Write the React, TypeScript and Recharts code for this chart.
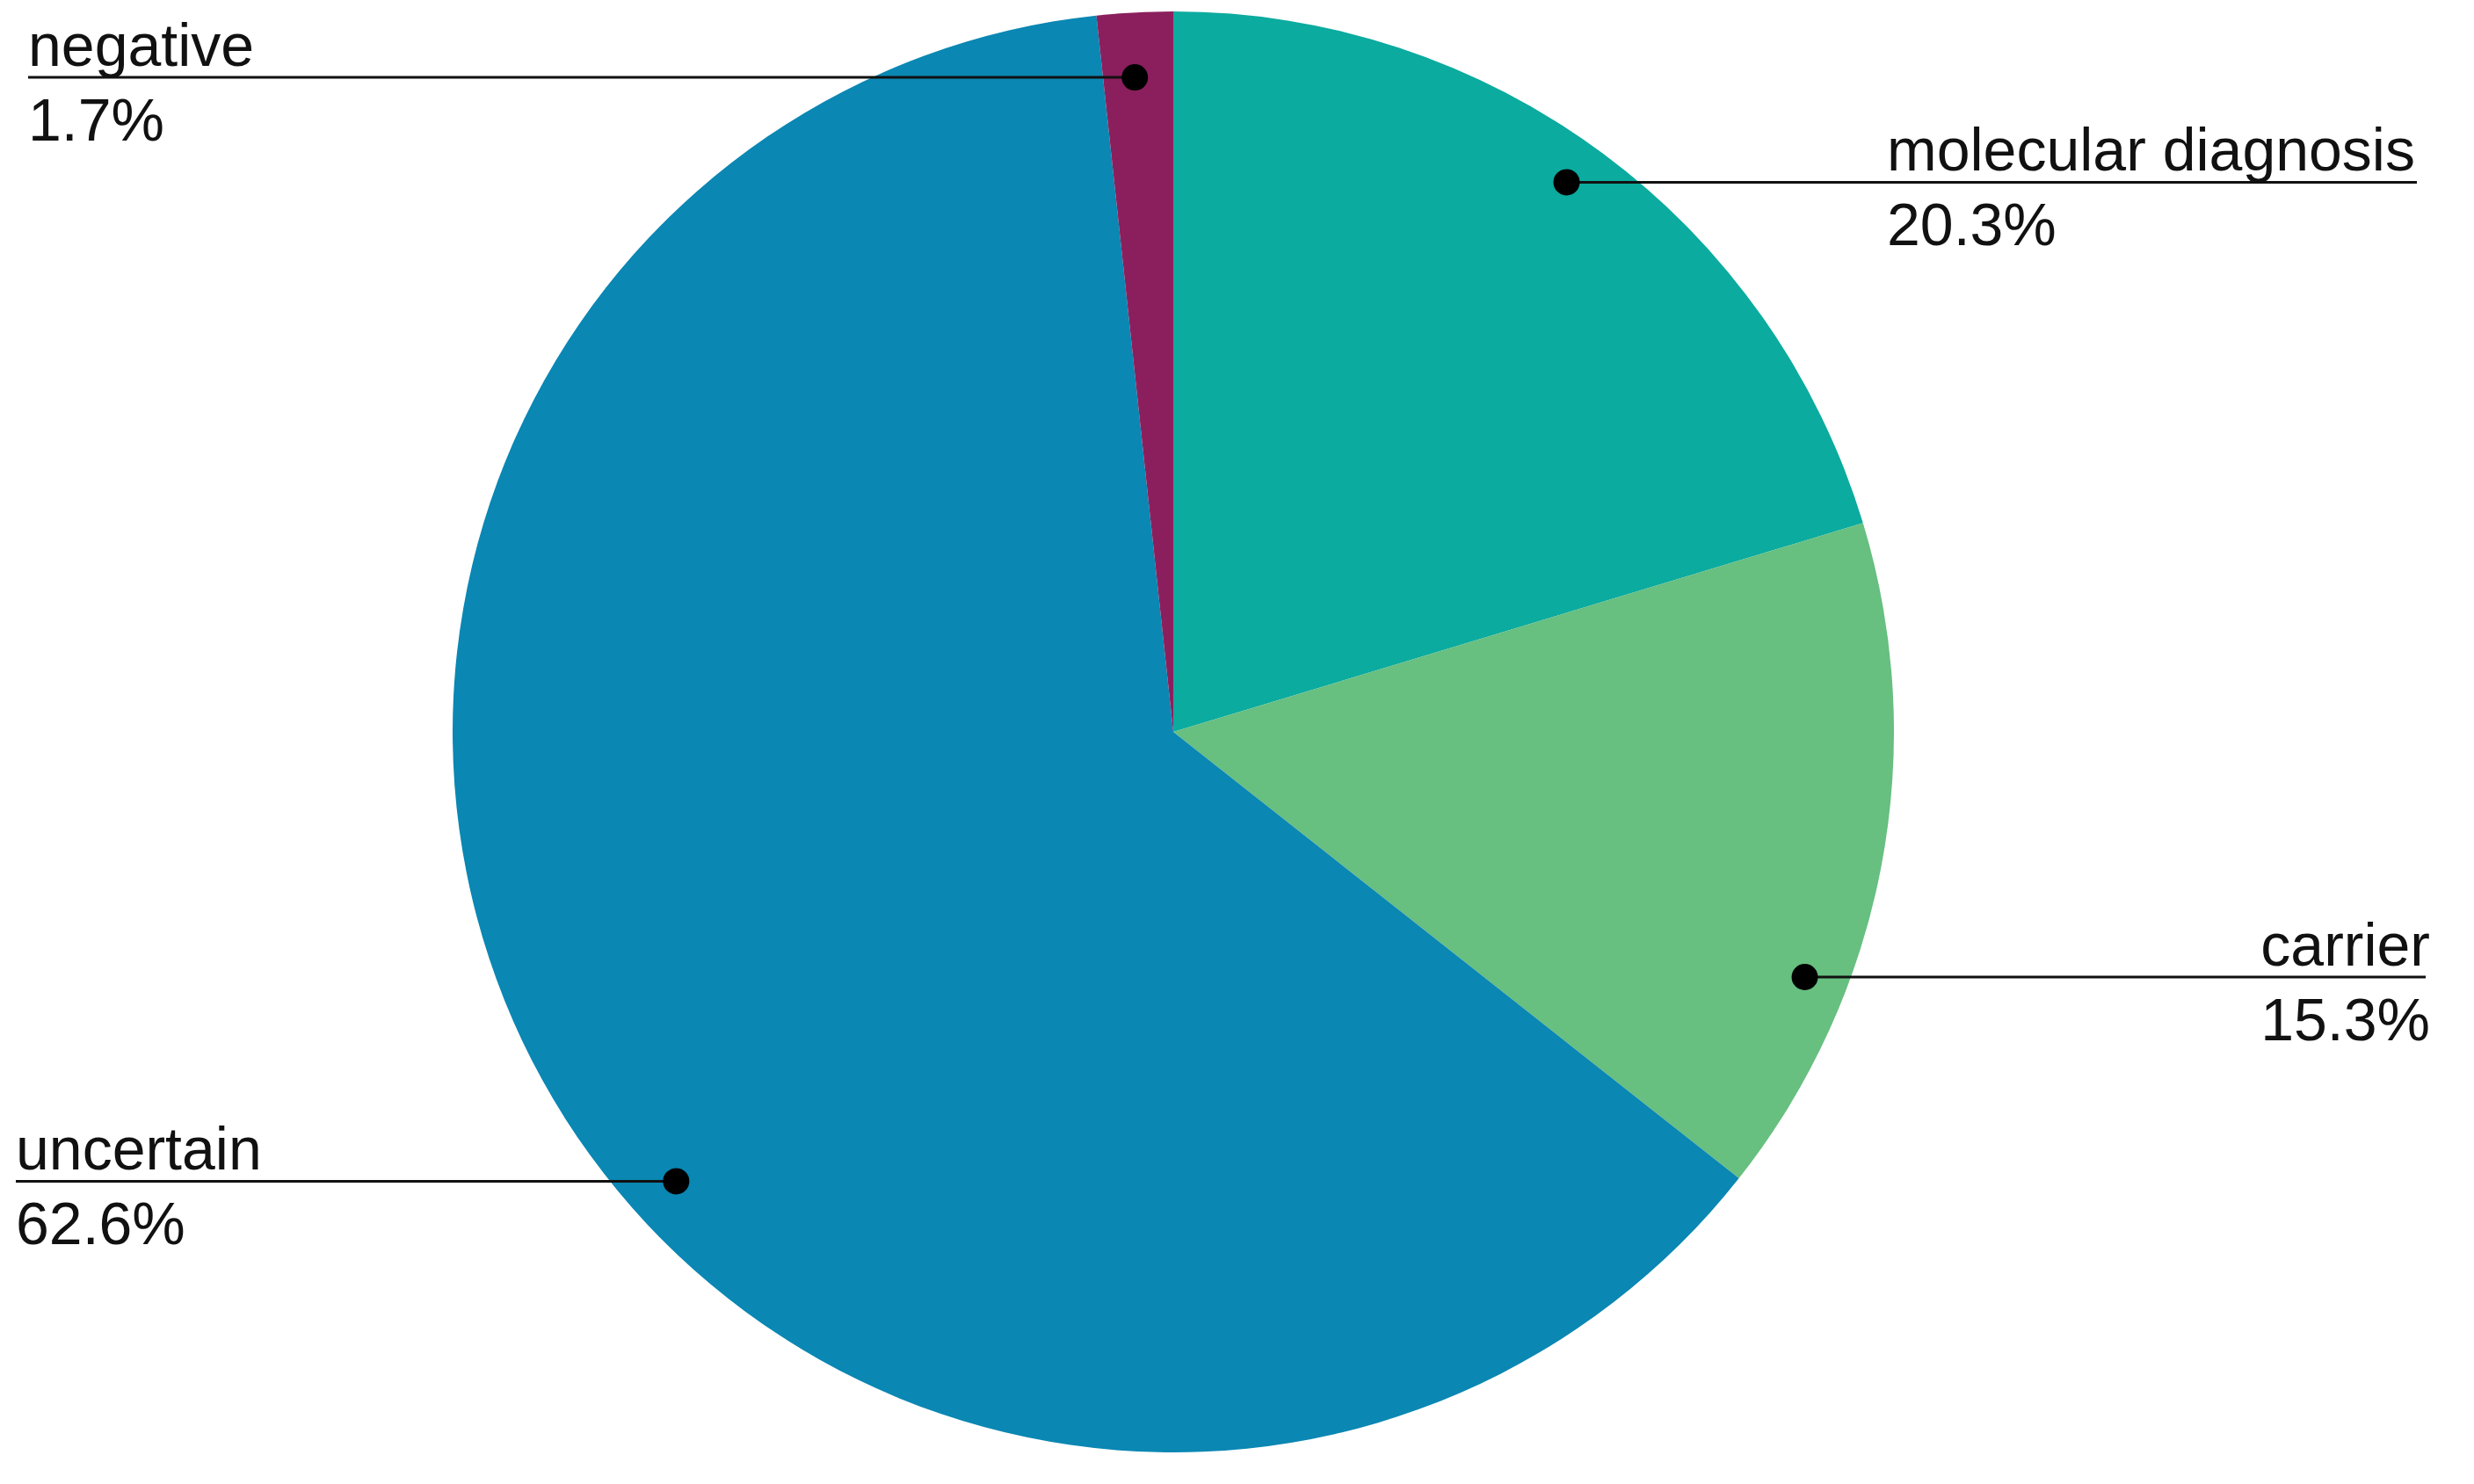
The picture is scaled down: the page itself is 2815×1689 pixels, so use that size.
import React from "react";
import { PieChart, Pie, Cell } from "recharts";

const categories = ["molecular diagnosis", "carrier", "uncertain", "negative"];
const percentages = [20.3, 15.3, 62.6, 1.7];
const valueLabels = ["20.3%", "15.3%", "62.6%", "1.7%"];
const sliceColors = ["#0BAB9F", "#67BF80", "#0A87B3", "#8B1F5D"];

// label placement (annotation layout only)
const labelAngleNudge = [1, -10.5, 13.2, 0.3];
const labelRadiusRatio = [0.938, 0.94, 0.93, 0.91];
const labelLineEnd = [2750, 2760, 18, 32];
const labelTextX = [2147, 2765, 18, 32];
const labelAnchor = ["start", "end", "start", "start"];

const data = categories.map((name, i) => ({ name, value: percentages[i] }));

const RAD = Math.PI / 180;

const renderLabel = (props: any) => {
  const { cx, cy, midAngle, outerRadius, index } = props;
  const ang = midAngle + labelAngleNudge[index];
  const r = outerRadius * labelRadiusRatio[index];
  const dx = cx + r * Math.cos(-ang * RAD);
  const dy = cy + r * Math.sin(-ang * RAD);
  const font = { fontFamily: "'Liberation Sans', Arial, sans-serif", fontSize: 68, fill: "#111" };
  return (
    <g key={`lbl-${index}`}>
      <line x1={dx} y1={dy} x2={labelLineEnd[index]} y2={dy} stroke="#111" strokeWidth={3} />
      <circle cx={dx} cy={dy} r={15} fill="#000" />
      <text x={labelTextX[index]} y={dy - 13} textAnchor={labelAnchor[index] as any} {...font}>
        {categories[index]}
      </text>
      <text x={labelTextX[index]} y={dy + 72} textAnchor={labelAnchor[index] as any} {...font}>
        {valueLabels[index]}
      </text>
    </g>
  );
};

export default function App() {
  return (
    <div style={{ position: "absolute", left: 0, top: 0, width: 2815, height: 1689, background: "#fff" }}>
      <PieChart width={2815} height={1689} margin={{ top: 0, right: 0, bottom: 0, left: 0 }}>
        <Pie
          data={data}
          dataKey="value"
          nameKey="name"
          cx={1335}
          cy={833}
          outerRadius={820}
          startAngle={90}
          endAngle={-270}
          stroke="none"
          isAnimationActive={false}
          label={renderLabel}
          labelLine={false}
        >
          {data.map((d, i) => (
            <Cell key={d.name} fill={sliceColors[i]} />
          ))}
        </Pie>
      </PieChart>
    </div>
  );
}
